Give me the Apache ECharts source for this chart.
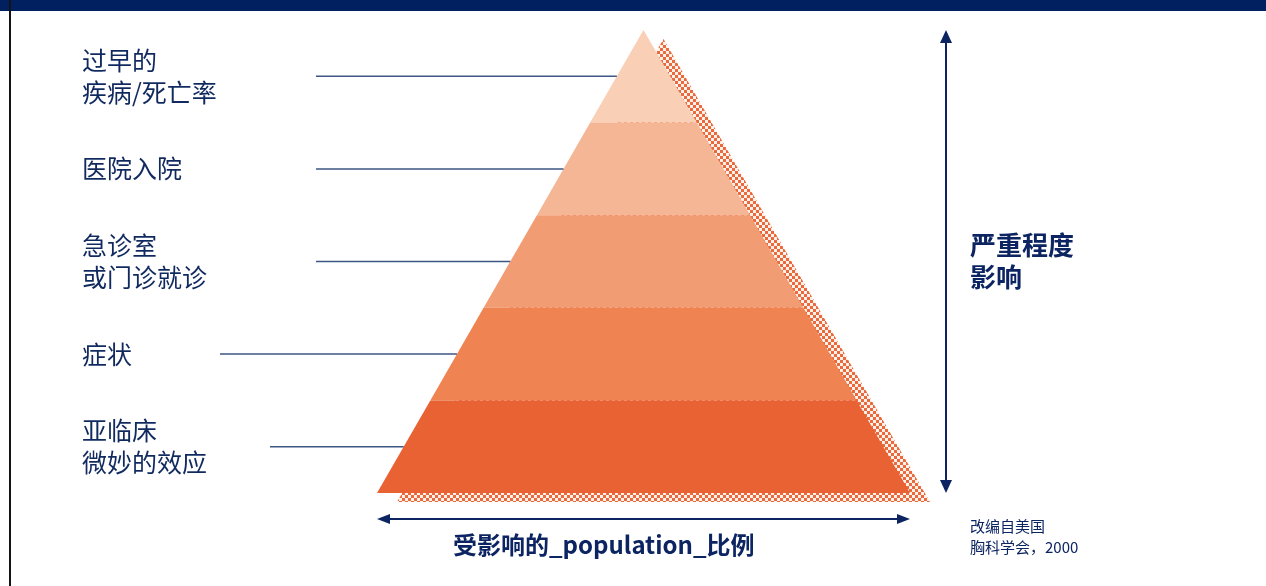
<!DOCTYPE html>
<html>
<head>
<meta charset="utf-8">
<script src="https://cdn.jsdelivr.net/npm/echarts@6/dist/echarts.min.js"></script>
<style>
  html, body { margin: 0; padding: 0; background: #ffffff; }
  #chart { width: 1266px; height: 586px; }
</style>
</head>
<body>
<div id="chart"></div>
<script>
// Health-effect tiers, from the top of the pyramid down
const tierLines = [
  ['过早的', '疾病/死亡率'],
  ['医院入院'],
  ['急诊室', '或门诊就诊'],
  ['症状'],
  ['亚临床', '微妙的效应']
];
// Relative width of each tier's lower edge; the apex narrows to zero
const tierValues = [1, 2, 3, 4, 5];
const tierColors = ['#F9CFB5', '#F5B696', '#F29C73', '#EF8352', '#E96234'];
const severityLabel = ['严重程度', '影响'];
const populationLabel = '受影响的_population_比例';
const sourceLines = ['改编自美国', '胸科学会，2000'];

// Where each connector line begins on the left
const connectorStartX = [316, 316, 316, 220, 270];

const NAVY = '#0c2461';
const TEXT = '#10295e';
const FONT = '"Noto Sans CJK SC", "Noto Sans", sans-serif';

// Checkered fill for the offset shadow behind the pyramid
const pat = document.createElement('canvas');
pat.width = 6; pat.height = 6;
const pc = pat.getContext('2d');
pc.fillStyle = '#fdf1ea';
pc.fillRect(0, 0, 6, 6);
pc.fillStyle = '#EA6A3E';
pc.fillRect(0, 0, 3, 3);
pc.fillRect(3, 3, 3, 3);

const chart = echarts.init(document.getElementById('chart'), null, { renderer: 'canvas' });

const pyramid = { left: 377, top: 30, width: 533, height: 463 };

chart.setOption({
  animation: false,
  backgroundColor: '#ffffff',
  series: [
    {
      // shadow
      type: 'funnel',
      silent: true,
      z: 1,
      left: pyramid.left + 20,
      top: pyramid.top + 9,
      width: pyramid.width,
      height: pyramid.height,
      min: 0,
      max: 1,
      minSize: '0%',
      maxSize: '100%',
      sort: 'ascending',
      gap: 0,
      label: { show: false },
      labelLine: { show: false },
      itemStyle: { borderWidth: 0, color: { image: pat, repeat: 'repeat' } },
      data: [{ name: 'shadow', value: 1 }]
    },
    {
      type: 'funnel',
      silent: true,
      z: 3,
      left: pyramid.left,
      top: pyramid.top,
      width: pyramid.width,
      height: pyramid.height,
      min: 0,
      max: Math.max.apply(null, tierValues),
      minSize: '0%',
      maxSize: '100%',
      sort: 'ascending',
      gap: 0,
      label: { show: false },
      labelLine: { show: false },
      itemStyle: { borderWidth: 0 },
      data: tierLines.map((l, i) => ({
        name: l.join(''),
        value: tierValues[i],
        itemStyle: { color: tierColors[i] }
      }))
    }
  ]
});

// Build labels, connectors and arrows from the laid-out pyramid pieces
const data = chart.getModel().getSeriesByIndex(1).getData();
const elements = [];

let topY = Infinity, baseY = -Infinity, baseL = Infinity, baseR = -Infinity;
tierLines.forEach((lines, i) => {
  const pts = data.getItemLayout(i).points;
  const ys = pts.map(p => p[1]);
  const yTop = Math.min.apply(null, ys), yBot = Math.max.apply(null, ys);
  topY = Math.min(topY, yTop);
  if (yBot > baseY) {
    baseY = yBot;
    const bottomPts = pts.filter(p => p[1] === yBot);
    baseL = Math.min.apply(null, bottomPts.map(p => p[0]));
    baseR = Math.max.apply(null, bottomPts.map(p => p[0]));
  }
  // midpoint of the piece's left edge
  const lowL = pts.filter(p => p[1] === yBot).sort((a, b) => a[0] - b[0])[0];
  const upL = pts.filter(p => p[1] === yTop).sort((a, b) => a[0] - b[0])[0];
  const midX = (lowL[0] + upL[0]) / 2;
  const midY = (yTop + yBot) / 2;

  elements.push({
    type: 'line', z: 10, silent: true,
    shape: { x1: connectorStartX[i], y1: midY, x2: midX, y2: midY },
    style: { stroke: '#3d5683', lineWidth: 1.5 }
  });
  elements.push({
    type: 'text', z: 10, silent: true,
    x: 82, y: midY,
    style: {
      text: lines.join('\n'), font: '25px ' + FONT, fill: TEXT,
      align: 'left', verticalAlign: 'middle', lineHeight: 32
    }
  });
});

// Severity arrow alongside the pyramid
const ax = 946, head = 12, half = 6;
elements.push(
  { type: 'line', z: 10, silent: true,
    shape: { x1: ax, y1: topY + head, x2: ax, y2: baseY - head },
    style: { stroke: NAVY, lineWidth: 2 } },
  { type: 'polygon', z: 10, silent: true,
    shape: { points: [[ax, topY], [ax - half, topY + head + 1], [ax + half, topY + head + 1]] },
    style: { fill: NAVY } },
  { type: 'polygon', z: 10, silent: true,
    shape: { points: [[ax, baseY], [ax - half, baseY - head - 1], [ax + half, baseY - head - 1]] },
    style: { fill: NAVY } }
);

// Population arrow under the base
const ay = baseY + 26;
elements.push(
  { type: 'line', z: 10, silent: true,
    shape: { x1: baseL + head, y1: ay, x2: baseR - head, y2: ay },
    style: { stroke: NAVY, lineWidth: 2 } },
  { type: 'polygon', z: 10, silent: true,
    shape: { points: [[baseL, ay], [baseL + head + 1, ay - 5], [baseL + head + 1, ay + 5]] },
    style: { fill: NAVY } },
  { type: 'polygon', z: 10, silent: true,
    shape: { points: [[baseR, ay], [baseR - head - 1, ay - 5], [baseR - head - 1, ay + 5]] },
    style: { fill: NAVY } }
);

// Frame: top band and left rule
elements.push(
  { type: 'rect', z: 20, silent: true, shape: { x: 0, y: 0, width: 1266, height: 11 }, style: { fill: '#002060' } },
  { type: 'rect', z: 20, silent: true, shape: { x: 9, y: 0, width: 2, height: 586 }, style: { fill: '#141414' } }
);

// Titles and source note
elements.push(
  { type: 'text', z: 10, silent: true, x: 970, y: 261,
    style: { text: severityLabel.join('\n'), font: 'bold 26px ' + FONT, fill: NAVY,
      align: 'left', verticalAlign: 'middle', lineHeight: 32 } },
  { type: 'text', z: 10, silent: true, x: 453, y: 545,
    style: { text: populationLabel, font: 'bold 24px ' + FONT, fill: NAVY,
      align: 'left', verticalAlign: 'middle' } },
  { type: 'text', z: 10, silent: true, x: 970, y: 537,
    style: { text: sourceLines.join('\n'), font: '15px ' + FONT, fill: NAVY,
      align: 'left', verticalAlign: 'middle', lineHeight: 21 } }
);

chart.setOption({ graphic: { elements: elements } });
</script>
</body>
</html>
